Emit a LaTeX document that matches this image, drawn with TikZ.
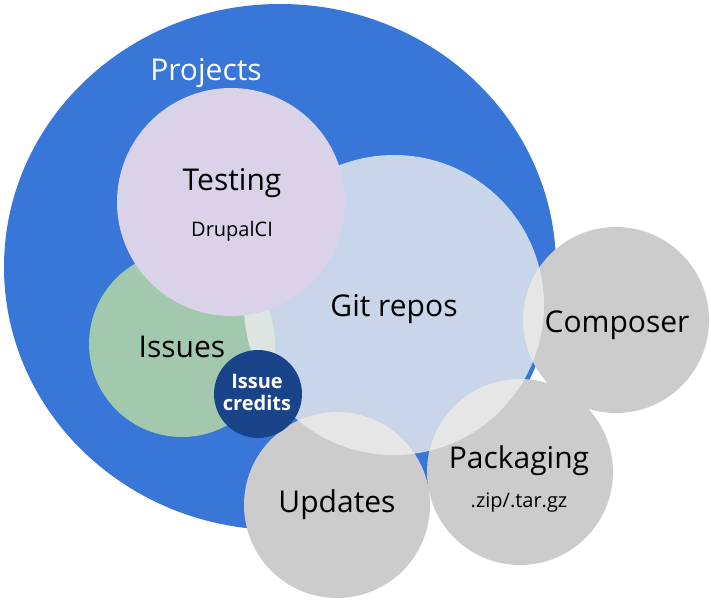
\documentclass[tikz,border=0pt]{standalone}
\usepackage{fontspec}
\setmainfont{Open Sans}
\usepackage{tikz}

\definecolor{projblue}{RGB}{56,118,216}
\definecolor{testlav}{RGB}{217,210,233}
\definecolor{gitblue}{RGB}{201,214,234}
\definecolor{issuegreen}{RGB}{162,201,174}
\definecolor{gitgreen}{RGB}{221,229,224}
\definecolor{creditblue}{RGB}{26,68,138}
\definecolor{outgrey}{RGB}{204,204,204}
\definecolor{gitgrey}{RGB}{230,230,230}

\tikzset{
  biglabel/.style={font=\fontsize{30}{36}\selectfont, anchor=base},
  smalllabel/.style={font=\fontsize{20}{24}\selectfont, anchor=base}
}

\begin{document}
\begin{tikzpicture}[x=1pt, y=-1pt]
		\useasboundingbox (0, 0) rectangle (711, 601);
		\coordinate (projects) at (280, 267);
		\coordinate (issues) at (182, 344);
		\coordinate (git) at (394, 305);
		\coordinate (testing) at (231, 202);
		\coordinate (composer) at (616, 320);
		\coordinate (packaging) at (520, 472);
		\coordinate (updates) at (337, 505);
		\coordinate (credits) at (258, 394);
		% circles
		\fill[projblue] (projects) ellipse [x radius=276, y radius=263];
		\fill[issuegreen] (issues) circle [radius=93];
		\fill[gitblue] (git) circle [radius=150];
		\begin{scope}
			\clip (git) circle [radius=150];
			\fill[gitgreen] (issues) circle [radius=93];
		\end{scope}
		\fill[testlav] (testing) circle [radius=114];
		\foreach \c in {composer, packaging, updates}
			\fill[outgrey] (\c) circle [radius=93];
		\begin{scope}
			\clip (git) circle [radius=150];
			\foreach \c in {composer, packaging, updates}
				\fill[gitgrey] (\c) circle [radius=93];
		\end{scope}
		\fill[creditblue] (credits) circle [radius=44];
		% labels
		\node[biglabel, white] (projectstext) at (206, 81) {Projects};
		\node[biglabel] (testingtext) at (232, 191) {Testing};
		\node[smalllabel] (drupalci) at (232, 237) {DrupalCI};
		\node[biglabel] (gittext) at (394, 316) {Git repos};
		\node[biglabel] (composertext) at (617, 332) {Composer};
		\node[biglabel] (issuestext) at (182, 357) {Issues};
		\node[smalllabel, white, font=\fontsize{20}{24}\selectfont\bfseries] (issueline) at (257, 388) {Issue};
		\node[smalllabel, white, font=\fontsize{20}{24}\selectfont\bfseries] (creditline) at (257, 410) {credits};
		\node[biglabel] (updatestext) at (337, 512) {Updates};
		\node[biglabel] (packagingtext) at (519, 468) {Packaging};
		\node[smalllabel] (ziptext) at (519, 507) {.zip/.tar.gz};
\end{tikzpicture}
\end{document}
